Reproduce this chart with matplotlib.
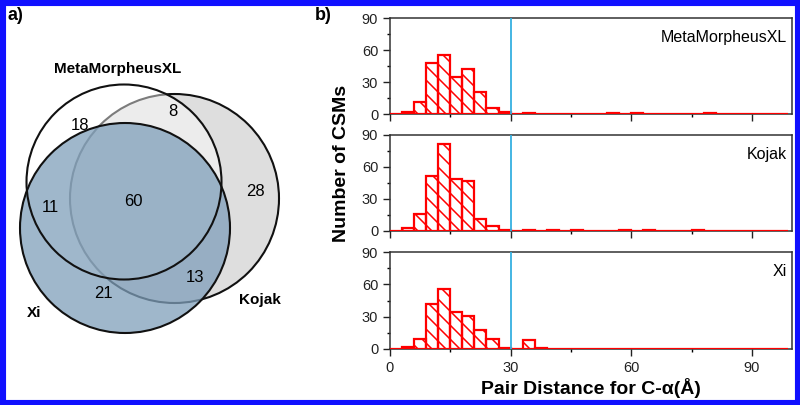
import numpy as np
import matplotlib
matplotlib.use("Agg")
import matplotlib.pyplot as plt
from matplotlib.patches import Circle, Rectangle
from matplotlib.collections import LineCollection

plt.rcParams["font.family"] = ["Liberation Sans", "DejaVu Sans"]

# Venn diagram counts
venn_sets = ["MetaMorpheusXL", "Kojak", "Xi"]
venn_counts = {"M": 18, "MK": 8, "K": 28, "MX": 11, "MKX": 60, "KX": 13, "X": 21}

# histogram: bin width 3, bins start at 0
bin_width = 3
bin_left = np.arange(0, 99, bin_width)
meta_counts = [0, 2, 11, 48, 55, 35, 42, 21, 6, 2, 0, 1, 0, 0, 0, 0, 0, 0, 1, 0, 1, 0, 0, 0, 0, 0, 1, 0, 0, 0, 0, 0, 0]
kojak_counts = [0, 3, 16, 52, 82, 49, 47, 11, 5, 1, 0, 1, 0, 1, 0, 1, 0, 0, 0, 1, 0, 1, 0, 0, 0, 1, 0, 0, 0, 0, 0, 0, 0]
xi_counts = [0, 2, 9, 42, 56, 34, 31, 18, 9, 1, 0, 8, 1, 0, 0, 0, 0, 0, 0, 0, 0, 0, 0, 0, 0, 0, 0, 0, 0, 0, 0, 0, 0]
hist_series = [("MetaMorpheusXL", meta_counts), ("Kojak", kojak_counts), ("Xi", xi_counts)]
cutoff = 30

W, H = 800, 405
fig = plt.figure(figsize=(8, 4.05), dpi=100)

# ---- a) Venn, drawn in pixel coordinates ----
axv = fig.add_axes([0, 0, 390 / W, 1])
axv.set_xlim(0, 390)
axv.set_ylim(H, 0)
axv.axis("off")

cm, rm = (124, 182), 97.5
ck, rk = (174.5, 198.5), 104.5
cx, rx = (125, 228), 105

axv.add_patch(Circle(ck, rk, facecolor="#dedede", edgecolor="#111111", lw=1.5, zorder=1))
axv.add_patch(Circle(cm, rm, facecolor="white", edgecolor="none", alpha=0.45, zorder=2))
axv.add_patch(Circle(cx, rx, facecolor="#7f9fba", edgecolor="none", alpha=0.75, zorder=3))
axv.add_patch(Circle(cm, rm, facecolor="none", edgecolor="#111111", lw=1.5, zorder=4))
axv.add_patch(Circle(cx, rx, facecolor="none", edgecolor="#111111", lw=1.5, zorder=4))

num_pos = {"M": (80, 125), "MK": (173, 112), "K": (255, 191), "MX": (50, 207),
           "MKX": (133, 201), "KX": (195, 277), "X": (103, 293)}
for key, val in venn_counts.items():
    axv.text(*num_pos[key], str(val), ha="center", va="center", fontsize=12, zorder=5)

axv.text(118, 69, venn_sets[0], ha="center", va="center", fontsize=11, fontweight="bold")
axv.text(260, 300, venn_sets[1], ha="center", va="center", fontsize=11, fontweight="bold")
axv.text(34, 313, venn_sets[2], ha="center", va="center", fontsize=11, fontweight="bold")
axv.text(7, 16, "a)", ha="left", va="center", fontsize=13, fontweight="bold")
axv.text(315, 16, "b)", ha="left", va="center", fontsize=13, fontweight="bold")

# ---- b) histograms ----
left, right = 390, 792
panel_px = [(18, 114), (135, 231), (252, 349)]
xmax, ymax = 100, 90
hatch_px = 14  # spacing of the diagonal hatch lines in pixels

axes = []
for (name, counts), (top, bot) in zip(hist_series, panel_px):
    ax = fig.add_axes([left / W, (H - bot) / H, (right - left) / W, (bot - top) / H])
    bars = ax.bar(bin_left, counts, width=bin_width, align="edge", facecolor="white",
                  edgecolor="red", linewidth=1.6, zorder=2)

    # 45 degree hatch lines (top-left to bottom-right), clipped to each bar
    slope = ((right - left) / xmax) / ((bot - top) / ymax)
    step = hatch_px / ((right - left) / xmax)
    cs = np.arange(0, xmax + ymax / slope + step, step)
    segs = [[(c, 0), (c - ymax / slope, ymax)] for c in cs]
    for b in bars:
        if b.get_height() <= 0:
            continue
        lc = LineCollection(segs, colors="red", linewidths=1.1, zorder=2.5)
        ax.add_collection(lc)
        lc.set_clip_path(b)
        # redraw outline over the hatch
    for b in bars:
        b.set_zorder(3)
        b.set_facecolor("none")

    ax.axvline(cutoff, color="#35b0e0", lw=1.3, zorder=4)
    ax.set_xlim(0, xmax)
    ax.set_ylim(0, ymax)
    ax.set_yticks([0, 30, 60, 90])
    ax.set_yticks([15, 45, 75], minor=True)
    ax.set_xticks([0, 30, 60, 90])
    ax.set_xticks([15, 45, 75], minor=True)
    ax.tick_params(which="major", direction="out", length=5, width=1, labelsize=10.5, colors="#222222")
    ax.tick_params(which="minor", direction="out", length=2.5, width=1)
    for s in ax.spines.values():
        s.set_linewidth(1.1)
        s.set_color("#333333")
    ax.text(0.988, 0.8, name, transform=ax.transAxes, ha="right", va="center", fontsize=11.5)
    axes.append(ax)

for ax in axes[:-1]:
    ax.tick_params(labelbottom=False)

axes[-1].set_xlabel("Pair Distance for C-α(Å)", fontsize=14, fontweight="bold", labelpad=2)
fig.text(342 / W, (H - 163) / H, "Number of CSMs", rotation=90, ha="center", va="center",
         fontsize=14, fontweight="bold")

# blue frame around the figure
fig.patches.append(Rectangle((0, 0), 1, 1, transform=fig.transFigure, fill=False,
                             edgecolor="#1010ff", linewidth=8, zorder=10))

fig.savefig("out.png", dpi=100, facecolor="white")
